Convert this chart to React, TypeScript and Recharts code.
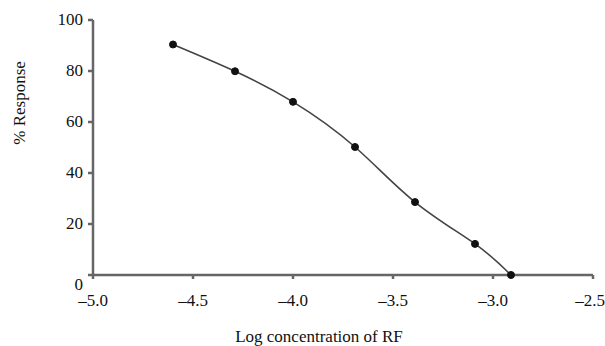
import { LineChart, Line, XAxis, YAxis, Label } from "recharts";

const logConc = [-4.6, -4.29, -4.0, -3.69, -3.39, -3.09, -2.91];
const response = [90.4, 79.9, 67.9, 50.2, 28.6, 12.2, 0];
const xTicks = [-5.0, -4.5, -4.0, -3.5, -3.0, -2.5];
const yTicks = [0, 20, 40, 60, 80, 100];

const data = logConc.map((x, i) => ({ x, y: response[i] }));

const font = "'Liberation Serif', 'Times New Roman', serif";
const axisColor = "#666";

const fmtX = (v: number) => (v < 0 ? "\u2013" + Math.abs(v).toFixed(1) : v.toFixed(1));

const YTick = (props: any) => {
  const { x, y, payload } = props;
  const dy = payload.value === 0 ? 15 : 5;
  return (
    <text x={x} y={y + dy} textAnchor="end" fontSize={17} fontFamily={font} fill="#111">
      {payload.value}
    </text>
  );
};

export default function App() {
  return (
    <div style={{ position: "absolute", left: 0, top: 0, background: "#fff" }}>
      <LineChart width={605} height={346} data={data} margin={{ top: 20, right: 12, left: 0, bottom: 0 }}>
        <XAxis
          dataKey="x"
          type="number"
          domain={[-5, -2.5]}
          ticks={xTicks}
          tickFormatter={fmtX}
          height={71}
          tickSize={4}
          tickMargin={15}
          stroke={axisColor}
          strokeWidth={2.5}
          tick={{ fontSize: 17, fontFamily: font, fill: "#111" }}
        >
          <Label
            content={(p: any) => {
              const vb = p.viewBox;
              return (
                <text x={vb.x + vb.width / 2 - 24} y={342} textAnchor="middle" fontSize={17} fontFamily={font} fill="#111">
                  Log concentration of RF
                </text>
              );
            }}
          />
        </XAxis>
        <YAxis
          dataKey="y"
          type="number"
          domain={[0, 100]}
          ticks={yTicks}
          width={93}
          tickSize={5}
          tickMargin={5}
          stroke={axisColor}
          strokeWidth={2.5}
          tick={<YTick />}
        >
          <Label
            content={() => (
              <text
                x={19}
                y={103}
                transform="rotate(-90 19 103)"
                textAnchor="middle"
                dominantBaseline="central"
                fontSize={17}
                fontFamily={font}
                fill="#111"
              >
                % Response
              </text>
            )}
          />
        </YAxis>
        <Line
          type="natural"
          dataKey="y"
          stroke="#444"
          strokeWidth={1.6}
          dot={{ r: 3.5, fill: "#111", stroke: "#111", strokeWidth: 1 }}
          isAnimationActive={false}
        />
      </LineChart>
    </div>
  );
}
